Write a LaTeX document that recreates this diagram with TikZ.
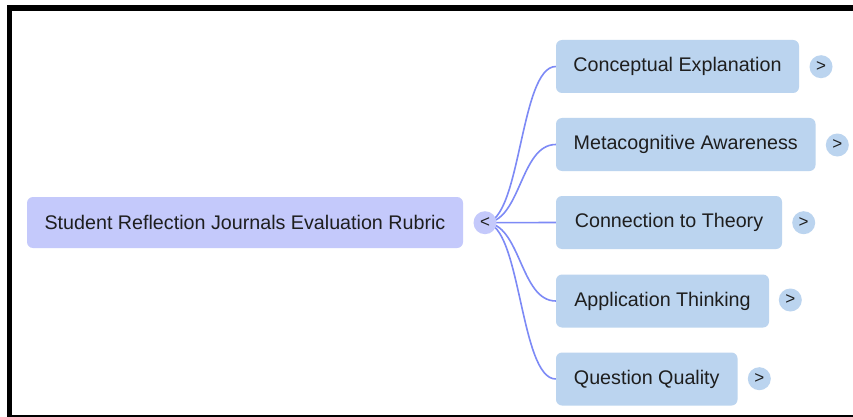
\documentclass[tikz,border=0pt]{standalone}
\usepackage{fontspec}
\setmainfont{Liberation Sans}
\definecolor{rootfill}{HTML}{C4C9FB}
\definecolor{leaffill}{HTML}{BBD4EF}
\definecolor{linkcol}{HTML}{7D8AF6}
\definecolor{ink}{HTML}{1E1E1E}
\begin{document}
\begin{tikzpicture}[x=1pt,y=-1pt,
  box/.style={rounded corners=6pt, inner sep=0pt, font=\fontsize{19.7}{22}\selectfont, text=ink},
  rootbox/.style={box, fill=rootfill},
  leafbox/.style={box, fill=leaffill, minimum height=53pt},
  toggle/.style={circle, inner sep=0pt, minimum size=23pt, font=\fontsize{17}{18}\selectfont, text=ink},
  hubtoggle/.style={toggle, fill=rootfill},
  leaftoggle/.style={toggle, fill=leaffill},
  link/.style={draw=linkcol, line width=1.6pt}]
\useasboundingbox (0,0) rectangle (853,417);
\clip (0,0) rectangle (853,417);
\fill[white] (0,0) rectangle (853,417);
% outer frame (right and lower edges run past the page)
\draw[line width=5.4pt] (9.2,8) rectangle (870,417.5);

% root topic
\node[rootbox, minimum width=436pt, minimum height=51pt] (root) at (245,222.5)
  {Student Reflection Journals Evaluation Rubric};

% branches
\node[leafbox, minimum width=243pt]   (l1) at (677.5,66.5)  {Conceptual Explanation};
\node[leafbox, minimum width=259.5pt] (l2) at (685.75,144.5) {Metacognitive Awareness};
\node[leafbox, minimum width=226pt]   (l3) at (669,222.5)   {Connection to Theory};
\node[leafbox, minimum width=213pt]   (l4) at (662.5,301)   {Application Thinking};
\node[leafbox, minimum width=181.5pt] (l5) at (646.75,379)  {Question Quality};

% connectors from the hub to each branch
\coordinate (hub) at (485,222.7);
\foreach \n in {l1,l2,l3,l4,l5}
  \draw[link] (hub) .. controls +(36,0) and +(-36,0) .. (\n.west);

% collapse / expand toggles
\node[hubtoggle] (t0) at (hub) {<};
\node[leaftoggle] (t1) at (821,66.7)   {>};
\node[leaftoggle] (t2) at (837.3,145)  {>};
\node[leaftoggle] (t3) at (803.7,222.7) {>};
\node[leaftoggle] (t4) at (790.3,300)  {>};
\node[leaftoggle] (t5) at (759.3,378.7) {>};
\end{tikzpicture}
\end{document}
